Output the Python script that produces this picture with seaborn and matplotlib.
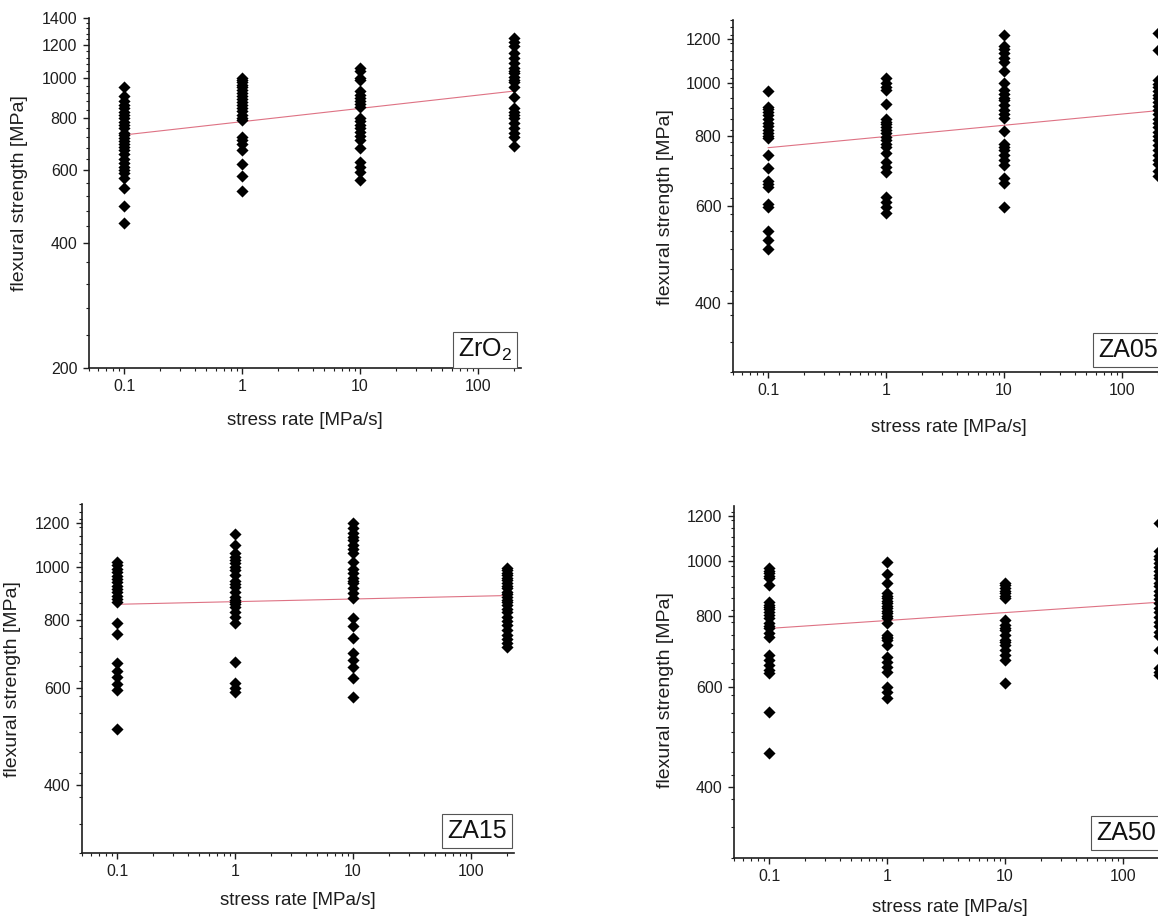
import numpy as np
import pandas as pd
import matplotlib
matplotlib.use("Agg")
import matplotlib.pyplot as plt
import seaborn as sns
from matplotlib.ticker import FixedLocator, NullFormatter, LogLocator

sns.set_theme(style="white")
plt.rcParams["font.family"] = ["Liberation Sans", "DejaVu Sans"]
plt.rcParams["mathtext.fontset"] = "custom"
plt.rcParams["mathtext.rm"] = "Liberation Sans"
plt.rcParams["mathtext.it"] = "Liberation Sans:italic"

# stress rates of the dynamic fatigue tests [MPa/s]
rates = [0.1, 1, 10, 200]
rate_ticks = [0.1, 1, 10, 100]
rate_tick_labels = ["0.1", "1", "10", "100"]

# flexural strength per stress rate [MPa]
zro2_r01 = [955, 905, 880, 862, 848, 831, 815, 800, 786, 771, 757, 738, 728, 717,
            705, 694, 683, 671, 655, 640, 626, 612, 601, 590, 576, 545, 492, 448]
zro2_r1 = [1000, 991, 979, 965, 952, 937, 922, 908, 893, 878, 862, 848, 832, 816,
           803, 791, 721, 708, 693, 671, 620, 580, 535]
zro2_r10 = [1057, 1040, 1004, 990, 930, 912, 898, 882, 866, 851, 801, 787, 772, 757,
            742, 727, 711, 678, 627, 611, 596, 569]
zro2_r200 = [1248, 1226, 1198, 1148, 1117, 1086, 1060, 1043, 1028, 1005, 991, 980,
             954, 903, 848, 830, 815, 801, 779, 758, 740, 723, 687]

za05_r01 = [967, 905, 896, 884, 873, 860, 846, 836, 821, 810, 800, 793, 740, 700,
            665, 656, 648, 603, 597, 540, 520, 500]
za05_r1 = [1018, 997, 984, 970, 915, 860, 850, 841, 831, 821, 810, 799, 788, 776,
           766, 745, 720, 705, 689, 622, 610, 596, 581]
za05_r10 = [1219, 1165, 1148, 1130, 1107, 1091, 1050, 1000, 970, 952, 940, 930, 911,
            892, 876, 862, 819, 775, 766, 756, 741, 725, 710, 672, 658, 597]
za05_r200 = [1228, 1145, 1012, 996, 982, 966, 951, 938, 921, 907, 893, 876, 861, 847,
             831, 816, 802, 787, 771, 757, 741, 726, 712, 694, 677]

za15_r01 = [1020, 1006, 991, 977, 961, 949, 936, 923, 911, 898, 886, 873, 862, 790,
            755, 668, 645, 628, 612, 597, 505]
za15_r1 = [1148, 1096, 1058, 1043, 1030, 1015, 1001, 987, 966, 943, 931, 919, 900,
           882, 871, 863, 855, 845, 828, 811, 789, 671, 613, 601, 592]
za15_r10 = [1204, 1176, 1151, 1135, 1119, 1096, 1076, 1058, 1022, 991, 973, 953, 943,
            933, 914, 894, 876, 805, 778, 740, 695, 676, 657, 626, 579]
za15_r200 = [995, 986, 974, 966, 953, 944, 933, 922, 913, 901, 893, 882, 871, 862,
             851, 838, 826, 811, 797, 783, 768, 752, 739, 726, 714]

za50_r01 = [970, 959, 950, 939, 931, 906, 845, 837, 830, 821, 813, 802, 792, 776,
            768, 760, 745, 735, 682, 669, 655, 642, 634, 542, 458]
za50_r1 = [993, 947, 913, 876, 866, 859, 850, 841, 833, 825, 816, 808, 800, 792, 776,
           741, 735, 730, 724, 710, 677, 664, 651, 638, 600, 588, 574]
za50_r10 = [913, 905, 894, 885, 876, 868, 859, 786, 770, 762, 755, 740, 725, 718, 710,
            696, 682, 669, 608]
za50_r200 = [1164, 1040, 1021, 1006, 990, 976, 961, 944, 931, 914, 901, 886, 871, 855,
             841, 826, 811, 796, 781, 766, 750, 736, 696, 648, 638, 629]

# power-law fit, strength at the lowest and highest stress rate [MPa]
fit_low = [730, 763, 854, 760]
fit_high = [931, 890, 886, 845]

materials = ["ZrO2", "ZA05", "ZA15", "ZA50"]
material_labels = ["ZrO$_2$", "ZA05", "ZA15", "ZA50"]
series = [
    [zro2_r01, zro2_r1, zro2_r10, zro2_r200],
    [za05_r01, za05_r1, za05_r10, za05_r200],
    [za15_r01, za15_r1, za15_r10, za15_r200],
    [za50_r01, za50_r1, za50_r10, za50_r200],
]

W, H = 1158, 916
fig = plt.figure(figsize=(W / 100, H / 100), dpi=100)
fig.patch.set_facecolor("white")

# panel frames in pixels: left, bottom, width, height
frames = [(88.5, 368.3, 432.2, 350.7), (732.5, 372.3, 432.2, 352.8),
          (81.5, 853.3, 432.2, 349.0), (733.5, 857.7, 432.2, 352.0)]
ylims = [(200, 1400), (300, 1300), (300, 1300), (300, 1250)]
ymajor = [list(range(200, 1401, 200)), list(range(400, 1201, 200)),
          list(range(400, 1201, 200)), list(range(400, 1201, 200))]
xlabel_offset = [52, 55, 47, 50]
ylabel_center = [(20, 193), (665, 207), (13, 679), (665, 690)]
box_corner = [(453, 368), (1093, 367), (442, 848), (1091, 850)]

ink = "#1e1e1e"
rows = []
for name, cols in zip(materials, series):
    for r, vals in zip(rates, cols):
        for v in vals:
            rows.append({"material": name, "rate": r, "strength": v})
df = pd.DataFrame(rows)

for i, name in enumerate(materials):
    left, bottom, width, height = frames[i]
    ax = fig.add_axes([left / W, (H - bottom) / H, width / W, height / H])
    ax.set_facecolor("white")
    sub = df[df["material"] == name]

    fit = pd.DataFrame({"rate": [rates[0], rates[-1]],
                        "strength": [fit_low[i], fit_high[i]]})
    sns.lineplot(data=fit, x="rate", y="strength", ax=ax, color="#de7284",
                 linewidth=0.8, zorder=2)
    sns.scatterplot(data=sub, x="rate", y="strength", ax=ax, marker="D",
                    color="black", s=38, linewidth=0, zorder=3)

    ax.set_xscale("log")
    ax.set_yscale("log")
    ax.set_xlim(0.05, 230)
    ax.set_ylim(*ylims[i])

    ax.xaxis.set_major_locator(FixedLocator(rate_ticks))
    ax.set_xticklabels(rate_tick_labels)
    ax.xaxis.set_minor_locator(LogLocator(base=10, subs=np.arange(2, 10)))
    ax.xaxis.set_minor_formatter(NullFormatter())

    lo, hi = ylims[i]
    ax.yaxis.set_major_locator(FixedLocator(ymajor[i]))
    ax.set_yticklabels([str(v) for v in ymajor[i]])
    ax.yaxis.set_minor_locator(FixedLocator([v for v in range(lo, hi + 1, 40)
                                             if v not in ymajor[i]]))
    ax.yaxis.set_minor_formatter(NullFormatter())

    for side in ("top", "right"):
        ax.spines[side].set_visible(False)
    for side in ("left", "bottom"):
        ax.spines[side].set_color(ink)
        ax.spines[side].set_linewidth(1.2)
    ax.tick_params(which="major", direction="out", length=4.5, width=1.0,
                   color=ink, labelsize=11.5, labelcolor=ink, pad=3.5,
                   left=True, bottom=True)
    ax.tick_params(which="minor", direction="out", length=2.5, width=0.8,
                   color=ink, left=True, bottom=True)

    ax.set_xlabel("stress rate [MPa/s]", fontsize=13.5, color=ink)
    ax.set_ylabel("flexural strength [MPa]", fontsize=14, color=ink)
    ax.xaxis.label.set_va("center")
    ax.yaxis.label.set_va("center")
    ax.xaxis.set_label_coords(0.5, -xlabel_offset[i] / height)
    cx, cy = ylabel_center[i]
    ax.yaxis.set_label_coords((cx - left) / width, (bottom - cy) / height)

    bx, by = box_corner[i]
    pad_px = 0.2 * 18 * 100 / 72
    fig.text((bx + pad_px) / W, (H - by + pad_px) / H, material_labels[i],
             ha="left", va="bottom", fontsize=18, color="#111111",
             bbox=dict(boxstyle="square,pad=0.2", facecolor="white",
                       edgecolor="#555555", linewidth=0.8), zorder=5)

fig.savefig("out.png", dpi=100, facecolor="white")
